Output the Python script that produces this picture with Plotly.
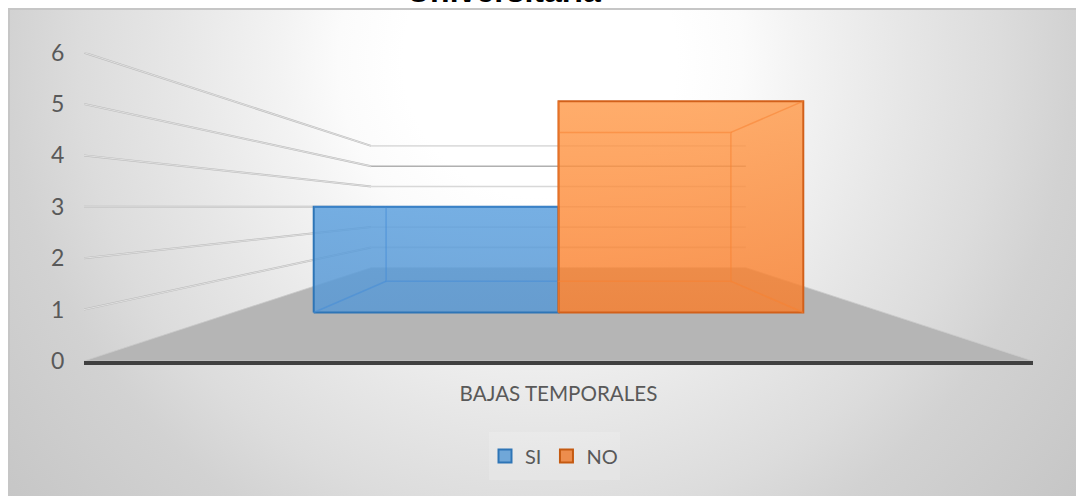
import plotly.graph_objects as go

# ---- data ----
categories = ["BAJAS TEMPORALES"]
series_names = ["SI", "NO"]
si_values = [3]
no_values = [6]
y_ticks = [0, 1, 2, 3, 4, 5, 6]
title_text = "Universitaria"

# ---- view: simple perspective model of the 3-D column chart ----
W, H = 1076, 496
EYE_LEVEL = 3.0      # axis value on the horizon
DEPTH_K = 1.532      # perspective growth with depth
WALL_X = 9.23        # half width of the floor, in category units
BAR_X = 6.95         # half width of the column cluster
BAR_Z = (0.30, 0.70) # front and back depth of the columns


def project(x, v, z):
    s = 1.0 / (1.0 + DEPTH_K * z)
    return x * s, EYE_LEVEL + (v - EYE_LEVEL) * s


def path(points):
    pts = [project(*p) for p in points]
    return [p[0] for p in pts], [p[1] for p in pts]


fig = go.Figure()

# chart-area gradient (primary pixel axes sit underneath everything)
gx, gy, ga, gb = 540, 60, 720, 720
fig.add_trace(go.Scatter(
    x=[gx - ga, gx + ga, gx + ga, gx - ga, gx - ga],
    y=[gy - gb, gy - gb, gy + gb, gy + gb, gy - gb],
    mode="lines", line=dict(width=0), fill="toself", hoverinfo="skip", showlegend=False,
    fillgradient=dict(type="radial", colorscale=[[0, "#ffffff"], [0.19, "#ffffff"], [0.28, "#fbfbfb"], [0.36, "#f3f3f3"],
                                                 [0.5, "#e7e7e7"], [0.64, "#dcdcdc"], [0.74, "#d2d2d2"], [0.96, "#c6c6c6"],
                                                 [1, "#c6c6c6"]]),
    xaxis="x", yaxis="y"))

A2 = dict(xaxis="x2", yaxis="y2", hoverinfo="skip", showlegend=False, cliponaxis=False)

# floor
fx, fy = path([(-WALL_X, 0, 0), (-WALL_X, 0, 1), (WALL_X, 0, 1), (WALL_X, 0, 0)])
fig.add_trace(go.Scatter(x=fx + fx[:1], y=fy + fy[:1], mode="lines", line=dict(width=0.8, color="#c9c9c9"),
                         fill="toself", fillcolor="#b5b5b5", **A2))

# walls' grid lines
grid_back = {0: "#b5b5b5", 1: "#d6d6d6", 2: "#dcdcdc", 3: "#d8d8d8", 4: "#d8d8d8", 5: "#b0b0b0", 6: "#dedede"}
for v in y_ticks[1:]:
    gxs, gys = path([(-WALL_X, v, 0), (-WALL_X, v, 1)])
    fig.add_trace(go.Scatter(x=gxs, y=gys, mode="lines", line=dict(width=2, color="#bcbcbc"), **A2))
    fig.add_trace(go.Scatter(x=gxs, y=gys, mode="lines", line=dict(width=0.7, color="#eeeeee"), **A2))
    gxs, gys = path([(-WALL_X, v, 1), (WALL_X, v, 1)])
    fig.add_trace(go.Scatter(x=gxs, y=gys, mode="lines", line=dict(width=1.6, color=grid_back[v]), **A2))


def column(x0, x1, value, grad, edge, inner):
    zf, zb = BAR_Z
    sx, sy = path([(x0, 0, zf), (x0, value, zf), (x1, value, zf), (x1, 0, zf), (x0, 0, zf)])
    fig.add_trace(go.Scatter(x=sx, y=sy, mode="lines", line=dict(width=2, color=edge), fill="toself",
                             fillgradient=dict(type="vertical", colorscale=grad), **A2))
    # hidden edges, visible through the translucent front
    for seg in ([(x0, value, zb), (x1, value, zb), (x1, 0, zb), (x0, 0, zb), (x0, value, zb)],
                [(x0, value, zf), (x0, value, zb)], [(x1, value, zf), (x1, value, zb)],
                [(x0, 0, zf), (x0, 0, zb)], [(x1, 0, zf), (x1, 0, zb)]):
        sx, sy = path(seg)
        fig.add_trace(go.Scatter(x=sx, y=sy, mode="lines", line=dict(width=1.5, color=inner), **A2))


column(-BAR_X, 0, si_values[0],
       [[0, "rgba(88,152,212,0.84)"], [1, "rgba(92,160,222,0.84)"]], "#2e75b6", "rgba(70,140,215,0.55)")
column(0, BAR_X, no_values[0],
       [[0, "rgba(250,124,40,0.8)"], [1, "rgba(255,152,70,0.8)"]], "#d2601a", "rgba(248,130,50,0.55)")

# legend entries
for name, fill, edge in zip(series_names, ("rgba(91,155,213,0.85)", "rgba(237,125,49,0.85)"), ("#2e75b6", "#c55a11")):
    fig.add_trace(go.Scatter(x=[None], y=[None], mode="markers", name=name, xaxis="x2", yaxis="y2",
                             marker=dict(symbol="square", size=13, color=fill, line=dict(width=2, color=edge))))

text_col = "#595959"
fig.update_layout(
    width=W, height=H, autosize=False,
    margin=dict(l=0, r=0, t=0, b=0, autoexpand=False),
    paper_bgcolor="#ffffff", plot_bgcolor="rgba(0,0,0,0)",
    font=dict(family="Lato", color=text_col),
    xaxis=dict(domain=[10 / W, 1], range=[10, W], side="top", showgrid=False, zeroline=False, showticklabels=False,
               showline=True, linecolor="#c6c6c6", linewidth=2, fixedrange=True),
    yaxis=dict(domain=[0, (H - 10) / H], range=[H, 10], showgrid=False, zeroline=False, showticklabels=False,
               showline=True, linecolor="#c6c6c6", linewidth=2, fixedrange=True),
    xaxis2=dict(domain=[84 / W, 1033 / W], range=[-WALL_X, WALL_X], anchor="y2", tickmode="array", tickvals=[0],
                ticktext=categories, tickfont=dict(size=20.6, color=text_col), showgrid=False, zeroline=False,
                showline=True, linecolor="#404040", linewidth=4, ticks="outside", ticklen=11,
                tickcolor="rgba(0,0,0,0)", fixedrange=True),
    yaxis2=dict(domain=[(H - 361) / H, (H - 52.6) / H], range=[0, 6], anchor="x2", tickmode="array", tickvals=y_ticks,
                tickfont=dict(size=23, color=text_col), showgrid=False, zeroline=False, showline=False,
                ticks="outside", ticklen=14, tickcolor="rgba(0,0,0,0)", fixedrange=True),
    legend=dict(orientation="h", x=485 / W, xanchor="left", y=(H - 456) / H, yanchor="middle",
                bgcolor="rgba(0,0,0,0)", font=dict(size=20, color=text_col), itemwidth=30),
    shapes=[dict(type="rect", xref="paper", yref="paper", x0=489 / W, x1=620 / W, y0=(H - 480) / H, y1=(H - 432) / H,
                 line=dict(width=0), fillcolor="rgba(255,255,255,0.16)", layer="above")],
    annotations=[dict(text="<b>%s</b>" % title_text, x=504 / W, y=1, xref="paper", yref="paper", yanchor="bottom",
                      xanchor="center", yshift=-11, showarrow=False,
                      font=dict(family="Liberation Sans", size=32, color="#000000"))],
)

fig.write_html("out.html", post_script="document.body.style.margin='0';", config=dict(displayModeBar=False))
